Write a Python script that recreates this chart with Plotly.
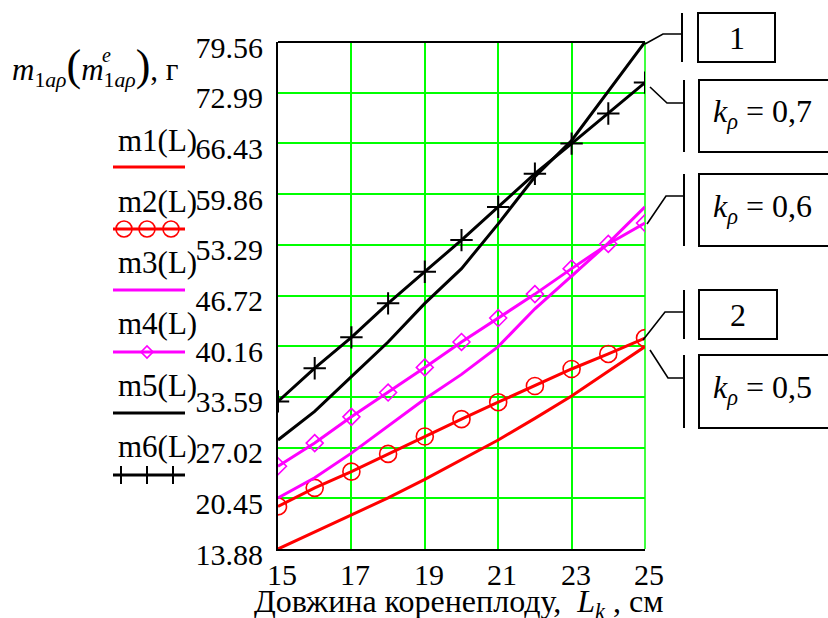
import plotly.graph_objects as go

# ---------------- data ----------------
L = [15, 16, 17, 18, 19, 20, 21, 22, 23, 24, 25]
m1 = [13.88, 16.1, 18.3, 20.5, 22.9, 25.4, 28.0, 30.8, 33.7, 36.9, 40.1]
m2 = [19.4, 21.8, 23.9, 26.2, 28.45, 30.7, 32.9, 35.0, 37.2, 39.15, 41.2]
m3 = [20.5, 23.1, 26.3, 29.75, 33.3, 36.5, 40.1, 45.0, 49.2, 53.5, 58.2]
m4 = [24.6, 27.6, 31.0, 34.15, 37.4, 40.7, 43.8, 46.9, 50.2, 53.4, 56.1]
m5 = [28.0, 31.7, 36.2, 40.7, 45.7, 50.2, 56.0, 62.1, 66.8, 73.1, 79.56]
m6 = [33.0, 37.3, 41.3, 45.7, 49.8, 53.9, 58.2, 62.5, 66.4, 70.3, 74.3]

y_ticks = [13.88, 20.45, 27.02, 33.59, 40.16, 46.72, 53.29, 59.86, 66.43, 72.99, 79.56]
x_ticks = [15, 17, 19, 21, 23, 25]
legend_names = ["m1(L)", "m2(L)", "m3(L)", "m4(L)", "m5(L)", "m6(L)"]
box_texts = ["1", "<i>k</i><sub><i>ρ</i></sub> = 0,7", "<i>k</i><sub><i>ρ</i></sub> = 0,6",
             "2", "<i>k</i><sub><i>ρ</i></sub> = 0,5"]
x_title = "Довжина коренеплоду,  <i>L</i><sub><i>k</i></sub> , см"

FONT = "Liberation Serif"
RED, MAG, BLK, GRN = "#ff0000", "#ff00ff", "#000000", "#00ff00"

# plot area in pixels
PL, PR, PT, PB = 278, 645, 42, 549
W, H = PR - PL, PB - PT
def fx(p):
    return (p - PL) / W
def fy(p):
    return (PB - p) / H

fig = go.Figure()
styles = [
    (m1, RED, None),
    (m2, RED, dict(symbol="circle-open", size=17, color=RED, line=dict(width=1.6, color=RED))),
    (m3, MAG, None),
    (m4, MAG, dict(symbol="diamond-open", size=13, color=MAG, line=dict(width=1.6, color=MAG))),
    (m5, BLK, None),
    (m6, BLK, dict(symbol="cross-thin-open", size=16, color=BLK, line=dict(width=2, color=BLK))),
]
for (ys, col, mk), nm in zip(styles, legend_names):
    fig.add_trace(go.Scatter(
        x=L, y=ys, name=nm, mode="lines+markers" if mk else "lines",
        line=dict(color=col, width=3), marker=mk, showlegend=False))

shapes = []
annots = []

# right frame line (green gridline at edge) and top frame
shapes.append(dict(type="line", xref="paper", yref="paper", x0=1, x1=1, y0=0, y1=1,
                   line=dict(color=GRN, width=1.5), layer="below"))
shapes.append(dict(type="line", xref="paper", yref="paper", x0=0, x1=1, y0=1, y1=1,
                   line=dict(color=BLK, width=2)))

# ---------- x tick labels and title ----------
for v in x_ticks:
    annots.append(dict(xref="x", yref="paper", x=v, y=fy(574), text=str(v),
                       showarrow=False, xanchor="center", yanchor="middle", xshift=4,
                       font=dict(family=FONT, size=30, color="black")))
annots.append(dict(xref="paper", yref="paper", x=fx(458), y=fy(603), text=x_title,
                   showarrow=False, xanchor="center", yanchor="middle",
                   font=dict(family=FONT, size=32, color="black")))

# ---------- custom legend ----------
text_y = [140, 201, 262, 323, 385, 446]
line_y = [167, 229, 290, 352, 413, 475]
lx0, lx1 = 113, 185
cols = [RED, RED, MAG, MAG, BLK, BLK]
for i, nm in enumerate(legend_names):
    annots.append(dict(xref="paper", yref="paper", x=fx(116), y=fy(text_y[i]), text=nm,
                       showarrow=False, xanchor="left", yanchor="middle",
                       font=dict(family=FONT, size=31, color="black")))
    shapes.append(dict(type="line", xref="paper", yref="paper", x0=fx(lx0), x1=fx(lx1),
                       y0=fy(line_y[i]), y1=fy(line_y[i]), line=dict(color=cols[i], width=3)))
# legend symbols
for cx in [124, 147, 171]:
    r = 8
    shapes.append(dict(type="circle", xref="paper", yref="paper", x0=fx(cx - r), x1=fx(cx + r),
                       y0=fy(line_y[1] + r), y1=fy(line_y[1] - r), line=dict(color=RED, width=1.6)))
d = 6
shapes.append(dict(type="path", xref="paper", yref="paper",
                   path=f"M {fx(147-d)},{fy(line_y[3])} L {fx(147)},{fy(line_y[3]-d)} L {fx(147+d)},{fy(line_y[3])} L {fx(147)},{fy(line_y[3]+d)} Z",
                   line=dict(color=MAG, width=1.6)))
for cx in [121, 147, 173]:
    shapes.append(dict(type="line", xref="paper", yref="paper", x0=fx(cx), x1=fx(cx),
                       y0=fy(line_y[5] - 9), y1=fy(line_y[5] + 9), line=dict(color=BLK, width=2)))

# ---------- y title ----------
annots.append(dict(xref="paper", yref="paper", x=fx(10), y=fy(66),
                   text="<i>m</i><sub>1<i>aρ</i></sub><span style='font-size:44px'>(</span><i>m</i><sub>1<i>aρ</i></sub><span style='font-size:44px'>)</span>, г",
                   showarrow=False, xanchor="left", yanchor="middle",
                   font=dict(family=FONT, size=31, color="black")))
annots.append(dict(xref="paper", yref="paper", x=fx(106), y=fy(55), text="<i>e</i>",
                   showarrow=False, xanchor="center", yanchor="middle",
                   font=dict(family=FONT, size=20, color="black")))

# ---------- callout boxes ----------
boxes = [  # x0, x1, y0, y1
    (698, 775, 13, 62),
    (699, 840, 80, 152),
    (699, 840, 174, 246),
    (699, 777, 290, 339),
    (699, 840, 355, 428),
]
bars = [(682, 13, 62), (684, 80, 152), (684, 174, 246), (684, 290, 339), (684, 355, 428)]
leaders = [
    [(645, 44), (663, 34), (682, 34)],
    [(650, 87), (667, 103), (684, 103)],
    [(647, 224), (666, 196), (684, 196)],
    [(643, 340), (665, 312), (684, 312)],
    [(650, 350), (668, 378), (684, 378)],
]
for (x0, x1, y0, y1), txt in zip(boxes, box_texts):
    shapes.append(dict(type="rect", xref="paper", yref="paper", x0=fx(x0), x1=fx(x1),
                       y0=fy(y1), y1=fy(y0), line=dict(color=BLK, width=2)))
    if len(txt) == 1:
        annots.append(dict(xref="paper", yref="paper", x=fx((x0 + x1) / 2), y=fy((y0 + y1) / 2),
                           text=txt, showarrow=False, xanchor="center", yanchor="middle",
                           font=dict(family=FONT, size=32, color="black")))
    else:
        annots.append(dict(xref="paper", yref="paper", x=fx(711), y=fy((y0 + y1) / 2 - 2),
                           text=txt, showarrow=False, xanchor="left", yanchor="middle",
                           font=dict(family=FONT, size=32, color="black")))
for bx, y0, y1 in bars:
    shapes.append(dict(type="line", xref="paper", yref="paper", x0=fx(bx), x1=fx(bx),
                       y0=fy(y0), y1=fy(y1), line=dict(color=BLK, width=2)))
for pts in leaders:
    path = "M " + " L ".join(f"{fx(a)},{fy(b)}" for a, b in pts)
    shapes.append(dict(type="path", xref="paper", yref="paper", path=path,
                       line=dict(color=BLK, width=1.6)))

fig.update_layout(
    width=828, height=618,
    margin=dict(l=PL, r=828 - PR, t=PT, b=618 - PB, autoexpand=False),
    paper_bgcolor="white", plot_bgcolor="white",
    font=dict(family=FONT, size=30, color="black"),
    shapes=shapes, annotations=annots,
    xaxis=dict(range=[15, 25], tickvals=x_ticks, showticklabels=False,
               showgrid=True, gridcolor=GRN, gridwidth=1.5, automargin=False,
               showline=True, linecolor=BLK, linewidth=2, zeroline=False, ticks=""),
    yaxis=dict(range=[13.88, 79.56], tickvals=y_ticks, ticktext=[f"{v:.2f}" for v in y_ticks],
               showgrid=True, gridcolor=GRN, gridwidth=1.5, automargin=False,
               showline=True, linecolor=BLK, linewidth=2, zeroline=False,
               ticks="", ticklabelstandoff=7, ticklabelshift=5,
               tickfont=dict(family=FONT, size=30)),
)

fig.write_html("out.html")
